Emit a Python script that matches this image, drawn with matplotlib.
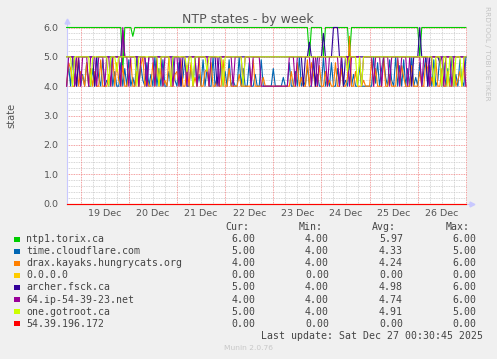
import numpy as np
import matplotlib
matplotlib.use("Agg")
import matplotlib.pyplot as plt
from matplotlib.patches import Rectangle

W, H = 497, 359

# ---------------- data ----------------
# sample times: hours since 18 Dec 00:00, one sample per hour
hours = np.arange(17, 217)

ntp1_torix = [
    6, 6, 6, 6, 6, 6, 6, 6, 6, 6,
    6, 6, 6, 6, 6, 6, 6, 6, 6, 6,
    6, 6, 6, 6, 6, 6, 6, 6, 4.5, 6,
    6, 6, 6, 5.7, 6, 6, 6, 6, 6, 6,
    6, 6, 6, 6, 6, 6, 6, 6, 6, 6,
    6, 6, 6, 6, 6, 6, 6, 6, 6, 6,
    6, 6, 6, 6, 6, 6, 6, 6, 6, 6,
    6, 6, 6, 6, 6, 6, 6, 6, 6, 6,
    6, 6, 6, 6, 6, 6, 6, 6, 6, 6,
    6, 6, 6, 6, 6, 6, 6, 6, 6, 6,
    6, 6, 6, 6, 6, 6, 6, 6, 6, 6,
    6, 6, 6, 6, 6, 6, 6, 6, 6, 6,
    6, 5.0, 6, 6, 6, 6, 6, 6, 5.0, 6,
    6, 6, 6, 6, 6, 6, 6, 6, 6, 6,
    6, 5.0, 6, 6, 6, 6, 6, 6, 6, 6,
    6, 6, 6, 6, 6, 6, 6, 6, 6, 6,
    6, 6, 6, 6, 6, 6, 6, 6, 6, 6,
    6, 6, 6, 6, 6, 6, 5.0, 6, 6, 6,
    6, 6, 6, 6, 6, 6, 6, 6, 6, 6,
    6, 6, 6, 6, 6, 6, 6, 6, 6, 6,
]
cloudflare = [
    4, 4.7, 4, 5, 4.2, 4, 4.9, 4, 4.4, 4,
    4.8, 4, 4, 4.6, 4, 5, 4.3, 4, 4.9, 4,
    4.2, 4, 5, 4, 4.5, 4, 4, 4.8, 4, 4.6,
    4, 4.9, 4, 4.3, 4, 5, 4, 4.7, 4.2, 4,
    4.8, 4, 4.4, 4, 5, 4, 4.6, 4, 4.9, 4,
    4, 4.5, 4, 5, 4.2, 4, 4.8, 4, 4.3, 4.9,
    4, 4, 4.7, 4, 5, 4, 4.4, 4, 4.9, 4,
    4.6, 4, 4, 5, 4, 4.3, 4, 4.8, 4, 4.5,
    4, 4.9, 4, 4.2, 4, 4, 5, 4, 4.6, 4,
    4, 4.8, 4, 4, 4.4, 4, 4, 4.9, 4, 4,
    4, 4, 4, 4.6, 4, 4, 4, 4, 4.3, 4,
    4, 4.8, 4, 4, 4.5, 4, 5, 4, 4.2, 4,
    4.7, 4, 4, 4.9, 4, 4.4, 4, 4, 5, 4,
    4.3, 4, 4.8, 4, 4, 4.6, 4, 5, 4, 4.2,
    4, 4.9, 4, 4.4, 4, 4, 4.7, 4, 4, 4,
    4, 4, 4, 5, 4.1, 4.8, 4, 4.6, 5, 4.3,
    4, 4.9, 4.2, 4, 5, 4, 4.7, 4, 4.9, 4,
    4.6, 4, 5, 4, 4.3, 4, 4.8, 4, 4.5, 5,
    4, 4.7, 4, 4.9, 4, 4.2, 5, 4, 4.8, 4,
    4.6, 4, 5, 4, 4.4, 4, 4.9, 4.2, 4, 5,
]
drax = [
    4, 4.8, 4.6, 4, 4, 5, 4, 4.5, 4.3, 4,
    4.8, 4, 4.6, 4, 4.5, 4, 4, 4.9, 4, 4,
    4, 4.4, 4, 5, 4, 4.8, 4.2, 4, 4.7, 4,
    4, 4.4, 4.9, 4, 4, 4.5, 4, 4.7, 5, 4,
    4.3, 4, 4, 4.8, 4, 4.9, 4, 4.6, 4, 4.2,
    4, 5, 4, 4, 4.4, 4.5, 4, 4.9, 4, 4,
    4.7, 4, 4.8, 4, 4.3, 4, 5, 4, 4, 4.5,
    4.6, 4, 4.8, 4, 4, 4.2, 4, 4, 4.9, 4,
    4, 4.6, 4, 4, 4, 4, 4.4, 4, 4, 4,
    4, 4, 4, 4.9, 4, 4, 4, 4, 4.3, 4,
    4, 4, 4, 4, 4, 4, 4, 4, 4, 4,
    4, 4, 4.5, 4, 4, 4.8, 4, 4.3, 4, 4,
    4.9, 4, 4.8, 4.4, 4, 4, 4.7, 4, 4, 4.5,
    4, 4.2, 4, 4, 4.8, 4, 4, 4.6, 4, 4,
    4.3, 5.7, 4, 4, 4.5, 4, 4, 4, 4.2, 4,
    4, 4, 4.9, 4, 4.6, 4, 4, 4, 5, 4,
    4, 4.4, 4, 4, 4, 4.9, 4, 4.7, 4.3, 4,
    4, 4, 4.7, 4, 4, 4, 4.5, 4, 4, 4.8,
    4.6, 4, 4.3, 4, 4.9, 4, 4, 4.6, 4, 4,
    4.5, 4, 4, 4.8, 4, 4.2, 4.5, 4, 4.7, 4,
]
zero_addr = [0.0] * len(hours)
archer = [
    5, 5, 5, 5, 5, 4, 5, 5, 5, 5,
    5, 5, 5, 5, 4, 5, 5, 5, 5, 5,
    5, 5, 5, 5, 5, 5, 5, 5, 5.9, 5,
    5, 5, 5, 5, 5, 5, 5, 5, 5, 5,
    4, 5, 5, 5, 5, 5, 5, 5, 5, 5,
    5, 5, 5, 5, 5, 5, 5, 4, 5, 5,
    5, 5, 5, 5, 5, 5, 5, 5, 5, 5,
    5, 5, 5, 5, 5, 4, 5, 5, 5, 5,
    5, 5, 5, 5, 5, 5, 5, 5, 5, 5,
    5, 5, 5, 5, 5, 5, 5, 5, 5, 5,
    5, 5, 5, 5, 5, 5, 5, 5, 5, 5,
    5, 5, 5, 5, 5, 5, 5, 5, 4, 5,
    5, 5.5, 5, 5, 4, 5, 5, 5, 5.8, 5,
    5, 5, 5, 6, 6, 6, 5, 5, 4, 5,
    5, 5, 5, 5, 5, 5, 5, 5, 5, 5,
    5, 5, 5, 5, 5, 5, 5, 5, 5, 5,
    5, 5, 5, 5, 5, 5, 5, 5, 5, 5,
    5, 5, 4, 5, 5, 5, 6, 5, 5, 5,
    4, 5, 5, 5, 5, 5, 4.8, 5, 5, 5,
    5, 5, 5, 5, 5, 5, 5, 5, 5, 5,
]
ip64 = [
    4, 5, 5, 5, 4, 5, 5, 4, 5, 5,
    5, 4, 5, 5, 5, 4, 5, 5, 5, 4,
    5, 5, 4, 5, 5, 5, 5, 4, 6, 5,
    5, 4, 5, 5, 5, 5, 4, 5, 5, 5,
    4, 5, 5, 5, 4, 5, 5, 5, 4, 5,
    5, 5, 5, 4, 5, 5, 4, 5, 5, 5,
    4, 5, 5, 5, 5, 4, 5, 5, 5, 5,
    5, 4, 5, 5, 5, 5, 4, 5, 5, 5,
    5, 5, 5, 4, 5, 5, 5, 5, 4, 5,
    5, 5, 4, 5, 5, 5, 5, 4, 4, 4,
    4, 4, 4, 4, 4, 4, 4, 4, 4, 4,
    4, 5, 5, 5, 4, 5, 5, 5, 5, 5,
    5, 5, 4, 5, 5, 4, 5, 5, 5, 5,
    4, 5, 5, 5, 5, 5, 4, 5, 5, 5,
    5, 4, 5, 5, 5, 5, 5, 4, 5, 5,
    5, 5, 5, 4, 5, 5, 5, 4, 5, 5,
    5, 4, 5, 5, 5, 5, 4, 5, 5, 5,
    4, 5, 5, 5, 5, 5, 5, 4, 5, 5,
    5, 4, 5, 5, 5, 5, 5, 5, 4, 5,
    5, 5, 4, 5, 5, 5, 5, 5, 5, 4,
]
gotroot = [
    5, 5, 5, 4, 5, 5, 5, 5, 5, 5,
    5, 5, 4, 5, 5, 5, 5, 5, 5, 5,
    5, 4, 5, 5, 5, 4.5, 5, 5, 5, 5,
    5, 5, 5, 5, 5, 4, 5, 5, 5, 5,
    5, 5, 5, 5, 5, 5, 4, 5, 5, 5,
    5, 5, 4, 5, 5, 5, 5, 5, 5, 5,
    4.5, 5, 5, 4, 5, 5, 5, 5, 5, 5,
    4.5, 5, 5, 5, 5, 5, 5, 5, 4, 5,
    5, 5, 5, 5, 5, 5, 5, 5, 4, 5,
    5, 5, 5, 5, 5, 5, 5, 5, 5, 5,
    5, 5, 5, 5, 5, 5, 5, 5, 5, 5,
    5, 5, 5, 5, 5, 5, 5, 5, 5, 5,
    5, 5, 5, 5, 5, 5, 5, 5, 5, 5,
    5, 5, 5, 5, 5, 5, 5, 5, 5, 5,
    4.5, 5, 5, 5, 5, 4, 5, 4, 5, 5,
    5, 5, 5, 5, 5, 5, 5, 5, 5, 5,
    5, 5, 5, 5, 5, 5, 5, 5, 5, 5,
    5, 5, 5, 5, 5, 5, 5, 5, 5, 5,
    5, 5, 5, 4, 5, 5, 5, 4, 5, 5,
    4, 5, 5, 4, 5, 5, 5, 4, 5, 5,
]
addr_54 = [0.0] * len(hours)

series_names = ["ntp1.torix.ca", "time.cloudflare.com", "drax.kayaks.hungrycats.org",
                "0.0.0.0", "archer.fsck.ca", "64.ip-54-39-23.net", "one.gotroot.ca",
                "54.39.196.172"]
series_values = [ntp1_torix, cloudflare, drax, zero_addr, archer, ip64, gotroot, addr_54]
series_colors = ["#00CC00", "#0066B3", "#FF8000", "#FFCC00", "#330099", "#990099",
                 "#CCFF00", "#FF0000"]
cur_vals = ["6.00", "5.00", "4.00", "0.00", "5.00", "4.00", "5.00", "0.00"]
min_vals = ["4.00", "4.00", "4.00", "0.00", "4.00", "4.00", "4.00", "0.00"]
avg_vals = ["5.97", "4.33", "4.24", "0.00", "4.98", "4.74", "4.91", "0.00"]
max_vals = ["6.00", "5.00", "6.00", "0.00", "6.00", "6.00", "5.00", "0.00"]

day_tick_hours = [36, 60, 84, 108, 132, 156, 180, 204]
day_tick_labels = ["19 Dec", "20 Dec", "21 Dec", "22 Dec", "23 Dec", "24 Dec",
                   "25 Dec", "26 Dec"]
y_ticks = [0, 1, 2, 3, 4, 5, 6]
y_tick_labels = ["0.0", "1.0", "2.0", "3.0", "4.0", "5.0", "6.0"]

# ---------------- figure ----------------
BG = "#F0F0F0"
fig = plt.figure(figsize=(W / 100, H / 100), dpi=100, facecolor=BG)


def fx(px):
    return px / W


def fy(py):
    return 1 - py / H


left, right, top, bottom = 67, 466.5, 27.5, 203.5
ax = fig.add_axes([fx(left), fy(bottom), (right - left) / W, (bottom - top) / H])
ax.set_facecolor("white")
ax.set_xlim(17.2, 216.3)
ax.set_ylim(0, 6)

# grid
minor_col = "#C8C8C8"
major_col = "#F08080"
dot = (0, (1, 1))
for yv in np.arange(0.2, 6.0001, 0.2):
    if abs(yv - round(yv)) > 1e-6:
        ax.axhline(yv, color=minor_col, lw=0.6, ls=dot, zorder=0)
for yv in y_ticks[1:]:
    ax.axhline(yv, color=major_col, lw=0.6, ls=dot, zorder=0.5)
for xv in np.arange(24, 217, 6):
    if xv % 24 != 0:
        ax.axvline(xv, color=minor_col, lw=0.6, ls=dot, zorder=0)
for xv in np.arange(24, 217, 24):
    ax.axvline(xv, color=major_col, lw=0.6, ls=dot, zorder=0.5)

for i, (vals, col) in enumerate(zip(series_values, series_colors)):
    ax.plot(hours, vals, color=col, lw=0.8, zorder=2 + i, clip_on=False)

for s in ax.spines.values():
    s.set_visible(False)
axis_col = "#C8C8FF"
ax.plot([0, 0], [0, 1.03], transform=ax.transAxes, color=axis_col, lw=0.8,
        clip_on=False, zorder=1)
ax.plot([0, 1.012], [0, 0], transform=ax.transAxes, color=axis_col, lw=0.8,
        clip_on=False, zorder=1)
ax.plot([0], [1.035], marker="^", ms=3.5, color=axis_col, transform=ax.transAxes,
        clip_on=False)
ax.plot([1.014], [0], marker=">", ms=3.5, color=axis_col, transform=ax.transAxes,
        clip_on=False)

ax.set_xticks(day_tick_hours)
ax.set_xticklabels(day_tick_labels)
ax.set_yticks(y_ticks)
ax.set_yticklabels(y_tick_labels)
ax.tick_params(axis="both", length=0, labelsize=6.8, labelcolor="#555555")
ax.tick_params(axis="x", pad=4)
ax.tick_params(axis="y", pad=6)

# title & labels
fig.text(fx(248), fy(19), "NTP states - by week", ha="center", va="center",
         fontsize=9, color="#555555")
fig.text(fx(11), fy(115.5), "state", ha="center", va="center", rotation=90,
         fontsize=7.1, color="#555555")
fig.text(fx(487.5), fy(53.5), "RRDTOOL / TOBI OETIKER", ha="center", va="center",
         rotation=-90, fontsize=5.3, color="#C4C4C4")

# legend
mono = "DejaVu Sans Mono"
lfs = 7.1
lcol = "#444444"
header_y = 227.3
for txt, xr in zip(["Cur:", "Min:", "Avg:", "Max:"], [249, 322.7, 396, 470]):
    fig.text(fx(xr), fy(header_y), txt, ha="right", va="center", family=mono,
             fontsize=lfs, color=lcol)
row0, dy = 239.3, 12.05
for i, name in enumerate(series_names):
    yy = row0 + i * dy
    fig.patches.append(Rectangle((fx(14), fy(yy + 2.8)), 5.6 / W, 5.6 / H,
                                 transform=fig.transFigure, facecolor=series_colors[i],
                                 edgecolor="none"))
    fig.text(fx(26), fy(yy), name, ha="left", va="center", family=mono,
             fontsize=lfs, color=lcol)
    for txt, xr in zip([cur_vals[i], min_vals[i], avg_vals[i], max_vals[i]],
                       [255.7, 329, 403, 476.7]):
        fig.text(fx(xr), fy(yy), txt, ha="right", va="center", family=mono,
                 fontsize=lfs, color=lcol)

fig.text(fx(482.7), fy(335.7), "Last update: Sat Dec 27 00:30:45 2025", ha="right",
         va="center", family=mono, fontsize=lfs, color=lcol)
fig.text(fx(248), fy(347.7), "Munin 2.0.76", ha="center", va="center",
         fontsize=5.4, color="#C8C8C8")

fig.savefig("out.png", dpi=100, facecolor=BG)
